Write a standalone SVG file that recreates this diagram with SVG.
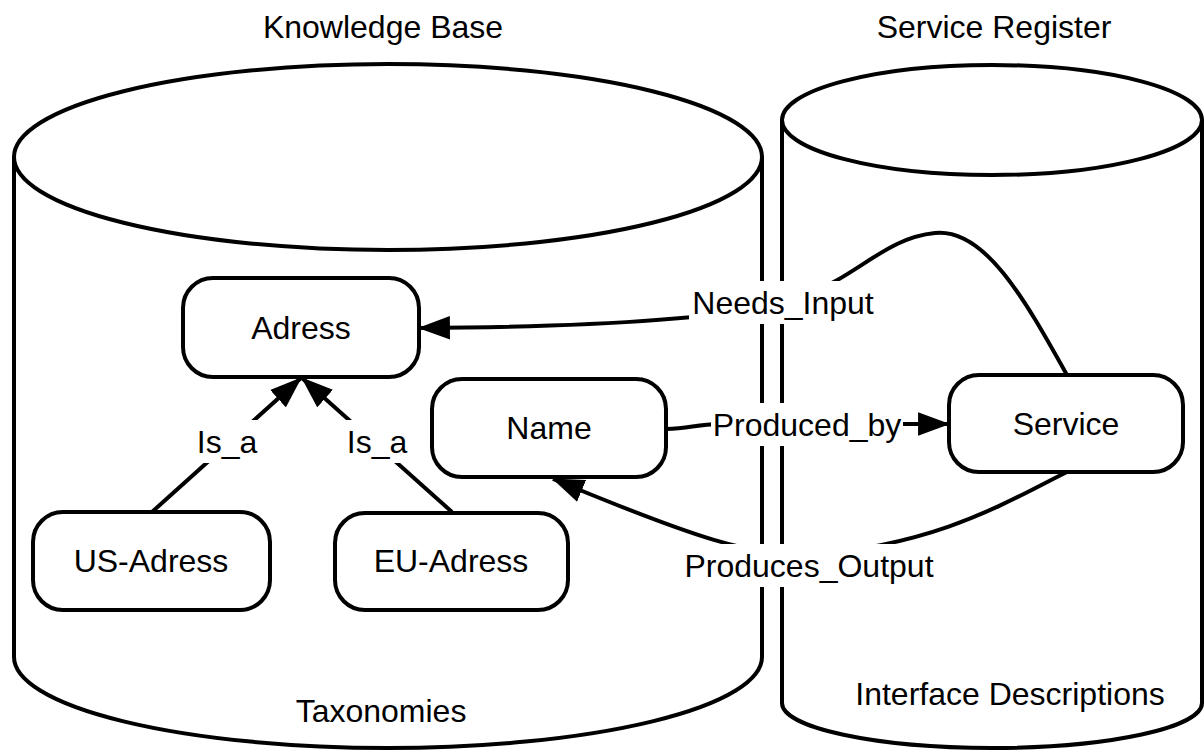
<svg xmlns="http://www.w3.org/2000/svg" width="1204" height="750" viewBox="0 0 1204 750">
  <style>
    .shape { fill: #ffffff; stroke: #000000; stroke-width: 4; }
    .edge { fill: none; stroke: #000000; stroke-width: 4; }
    .txt { font-family: "Liberation Sans", Arial, sans-serif; font-size: 32px; fill: #000000; text-anchor: middle; }
    .lblbg { fill: #ffffff; stroke: none; }
  </style>
  <defs>
    <marker id="arrow" markerUnits="userSpaceOnUse" markerWidth="32" markerHeight="24" viewBox="0 0 30 22" refX="29" refY="11" orient="auto">
      <path d="M0,0 L30,11 L0,22 z" fill="#000000"/>
    </marker>
  </defs>

  <rect width="1204" height="750" fill="#ffffff"/>

  <!-- Knowledge Base store -->
  <g id="knowledge-base">
    <path class="shape" d="M14,157 L14,657 A374,91 0 0 0 762,657 L762,157"/>
    <ellipse class="shape" cx="388" cy="157" rx="374" ry="93"/>
    <text class="txt" x="383" y="38">Knowledge Base</text>
    <text class="txt" x="381" y="722">Taxonomies</text>
  </g>

  <!-- Service Register store -->
  <g id="service-register">
    <path class="shape" d="M782,120 L782,703 A210,45 0 0 0 1202,703 L1202,120"/>
    <ellipse class="shape" cx="992" cy="120" rx="210" ry="55"/>
    <text class="txt" x="994" y="38">Service Register</text>
    <text class="txt" x="1010" y="705">Interface Descriptions</text>
  </g>

  <!-- Connectors -->
  <g id="connectors">
    <path class="edge" d="M152,512 L301,378" marker-end="url(#arrow)"/>
    <path class="edge" d="M452,512 L302,378" marker-end="url(#arrow)"/>
    <path class="edge" d="M1067,375 C1025,300 985,228 935,233 C885,238 860,275 800,298 C740,318 600,327 419,328" marker-end="url(#arrow)"/>
    <path class="edge" d="M666,429 C690,429 695,424 720,424 L949,424" marker-end="url(#arrow)"/>
    <path class="edge" d="M1067,472 C1010,500 940,545 808,555 C750,555 700,540 553,479" marker-end="url(#arrow)"/>

    <g id="label-isa-left">
      <rect class="lblbg" x="195" y="420" width="64" height="43"/>
      <text class="txt" x="227" y="453">Is_a</text>
    </g>
    <g id="label-isa-right">
      <rect class="lblbg" x="345" y="420" width="64" height="43"/>
      <text class="txt" x="377" y="453">Is_a</text>
    </g>
    <g id="label-needs-input">
      <rect class="lblbg" x="689" y="281" width="188" height="43"/>
      <text class="txt" x="783" y="314">Needs_Input</text>
    </g>
    <g id="label-produced-by">
      <rect class="lblbg" x="711" y="403" width="192" height="43"/>
      <text class="txt" x="807" y="436">Produced_by</text>
    </g>
    <g id="label-produces-output">
      <rect class="lblbg" x="683" y="544" width="252" height="43"/>
      <text class="txt" x="809" y="577">Produces_Output</text>
    </g>
  </g>

  <!-- Nodes -->
  <g id="node-adress">
    <rect class="shape" x="183" y="278" width="236" height="99" rx="30" ry="30"/>
    <text class="txt" x="301" y="339">Adress</text>
  </g>
  <g id="node-name">
    <rect class="shape" x="432" y="379" width="234" height="98" rx="30" ry="30"/>
    <text class="txt" x="549" y="439">Name</text>
  </g>
  <g id="node-service">
    <rect class="shape" x="949" y="375" width="234" height="97" rx="30" ry="30"/>
    <text class="txt" x="1066" y="435">Service</text>
  </g>
  <g id="node-us-adress">
    <rect class="shape" x="33" y="512" width="237" height="98" rx="30" ry="30"/>
    <text class="txt" x="151" y="572">US-Adress</text>
  </g>
  <g id="node-eu-adress">
    <rect class="shape" x="335" y="513" width="233" height="97" rx="30" ry="30"/>
    <text class="txt" x="451" y="572">EU-Adress</text>
  </g>
</svg>
